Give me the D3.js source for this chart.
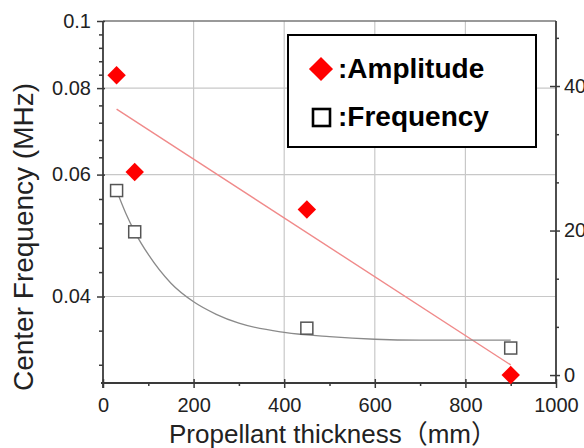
<!DOCTYPE html>
<html>
<head>
<meta charset="utf-8">
<script src="https://cdn.jsdelivr.net/npm/d3@7"></script>
<style>
  body { margin: 0; background: #fff; }
  svg { display: block; font-family: "Liberation Sans", Arial, "Noto Sans CJK JP", sans-serif; }
</style>
</head>
<body>
<div id="chart"></div>
<script>
// values
const thickness = [30, 70, 450, 900];
const amplitude = [41.5, 28.1, 22.9, 0];            // right axis
const frequency = [0.0569, 0.0496, 0.036, 0.0337];  // left axis (MHz)

// red straight fit (right axis), gray decay fit (left axis)
const ampFitX = [30, 900];
const ampFitY = [36.8, 1.4];
const freqFitX = [30, 50, 70, 100, 150, 200, 250, 300, 400, 500, 600, 700, 800, 900];
const freqFitY = [0.0569, 0.0528, 0.0496, 0.046, 0.0418, 0.0393, 0.0377, 0.0366, 0.0355, 0.035, 0.0347, 0.0346, 0.0346, 0.0346];

const xTicks = [0, 200, 400, 600, 800, 1000];
const xMinor = [100, 300, 500, 700, 900];
const leftTicks = [0.04, 0.06, 0.08, 0.1];
const leftTickLabels = ["0.04", "0.06", "0.08", "0.1"];
const rightTicks = [0, 20, 40];
const rightMinor = [20 / 3, 40 / 3, 80 / 3, 100 / 3, 140 / 3];

const width = 584, height = 448;
const margin = { top: 21, right: 28, bottom: 65, left: 103 };
const innerW = width - margin.left - margin.right;
const innerH = height - margin.top - margin.bottom;

const svg = d3.select("#chart").append("svg")
    .attr("width", width)
    .attr("height", height);

const g = svg.append("g").attr("transform", `translate(${margin.left},${margin.top})`);

const x = d3.scaleLinear().domain([0, 1000]).range([0, innerW]);
const yLeft = d3.scaleLog().domain([0.03, 0.1]).range([innerH, 0]);
const yRight = d3.scaleLinear().domain([-1.1, 49]).range([innerH, 0]);

// grid
g.append("g").selectAll("line").data(xTicks.slice(1, -1)).join("line")
    .attr("x1", d => x(d)).attr("x2", d => x(d))
    .attr("y1", 0).attr("y2", innerH)
    .attr("stroke", "#c8c8c8").attr("stroke-width", 1.2);
g.append("g").selectAll("line").data(leftTicks.slice(0, -1)).join("line")
    .attr("x1", 0).attr("x2", innerW)
    .attr("y1", d => yLeft(d)).attr("y2", d => yLeft(d))
    .attr("stroke", "#c8c8c8").attr("stroke-width", 1.2);

// top frame
g.append("line").attr("x1", 0).attr("x2", innerW).attr("y1", 0).attr("y2", 0)
    .attr("stroke", "#777").attr("stroke-width", 1.5);

// left minor ticks: 5 equal pixel steps between majors, continued below 0.04
const leftMinorPx = [];
for (let i = 0; i < leftTicks.length - 1; i++) {
    const a = yLeft(leftTicks[i]), b = yLeft(leftTicks[i + 1]);
    for (let k = 1; k < 5; k++) leftMinorPx.push(a + (b - a) * k / 5);
}
const lowStep = (yLeft(0.04) - yLeft(0.06)) * 1.4 / 5;
for (let p = yLeft(0.04) + lowStep; p < innerH - 10; p += lowStep) leftMinorPx.push(p);
const leftMinor = leftMinorPx.map(p => yLeft.invert(p));

const axisColor = "#3a3a3a";
function styleAxis(sel) {
    sel.select(".domain").attr("stroke", axisColor).attr("stroke-width", 1.8);
    sel.selectAll(".tick line").attr("stroke", axisColor).attr("stroke-width", 1.5);
    sel.selectAll(".tick text").attr("fill", "#222").style("font-size", "20px");
}

// bottom axis
const xAxis = g.append("g").attr("transform", `translate(0,${innerH})`)
    .call(d3.axisBottom(x).tickValues(xTicks).tickSizeInner(5).tickSizeOuter(0).tickPadding(10)
        .tickFormat(d3.format("d")));
styleAxis(xAxis);
xAxis.selectAll(".tick line").attr("y1", -4);
xAxis.select(".domain").attr("d", `M-2,0H${innerW}`);
const xAxisMinor = g.append("g").attr("transform", `translate(0,${innerH})`)
    .call(d3.axisBottom(x).tickValues(xMinor).tickSize(3).tickFormat(""));
styleAxis(xAxisMinor);
xAxisMinor.select(".domain").remove();

// left axis
const yAxisL = g.append("g")
    .call(d3.axisLeft(yLeft).tickValues(leftTicks).tickSizeInner(6).tickSizeOuter(0).tickPadding(6)
        .tickFormat((d, i) => leftTickLabels[i]));
styleAxis(yAxisL);
yAxisL.selectAll(".tick line").attr("x1", 2);
yAxisL.select(".domain").attr("d", `M0,0V${innerH + 5}`);
const yAxisLMinor = g.append("g")
    .call(d3.axisLeft(yLeft).tickValues(leftMinor).tickSize(4).tickFormat(""));
styleAxis(yAxisLMinor);
yAxisLMinor.select(".domain").remove();

// right axis (labels run past the picture edge, as in the source figure)
const yAxisR = g.append("g").attr("transform", `translate(${innerW},0)`)
    .call(d3.axisRight(yRight).tickValues(rightTicks).tickSizeInner(4).tickSizeOuter(0).tickPadding(4));
styleAxis(yAxisR);
yAxisR.selectAll(".tick line").attr("x1", -6);
yAxisR.select(".domain").attr("d", `M0,0V${innerH}`);
const yAxisRMinor = g.append("g").attr("transform", `translate(${innerW},0)`)
    .call(d3.axisRight(yRight).tickValues(rightMinor).tickSize(3).tickFormat(""));
styleAxis(yAxisRMinor);
yAxisRMinor.select(".domain").remove();

// fit lines
g.append("path")
    .datum(ampFitX.map((d, i) => [d, ampFitY[i]]))
    .attr("fill", "none").attr("stroke", "#f08a8a").attr("stroke-width", 1.4)
    .attr("d", d3.line().x(d => x(d[0])).y(d => yRight(d[1])));
g.append("path")
    .datum(freqFitX.map((d, i) => [d, freqFitY[i]]))
    .attr("fill", "none").attr("stroke", "#8a8a8a").attr("stroke-width", 1.3)
    .attr("d", d3.line().curve(d3.curveMonotoneX).x(d => x(d[0])).y(d => yLeft(d[1])));

// markers
const sq = 12;
g.append("g").selectAll("rect").data(thickness).join("rect")
    .attr("x", d => x(d) - sq / 2)
    .attr("y", (d, i) => yLeft(frequency[i]) - sq / 2)
    .attr("width", sq).attr("height", sq)
    .attr("fill", "#fff").attr("stroke", "#555").attr("stroke-width", 1.5);

g.append("g").selectAll("path").data(thickness).join("path")
    .attr("transform", (d, i) => `translate(${x(d)},${yRight(amplitude[i])}) rotate(45)`)
    .attr("d", d3.symbol().type(d3.symbolSquare).size(170))
    .attr("fill", "#ff0000");

// legend
const leg = svg.append("g");
leg.append("rect").attr("x", 288).attr("y", 35).attr("width", 248).attr("height", 112)
    .attr("fill", "#fff").attr("stroke", "#000").attr("stroke-width", 2);
leg.append("path")
    .attr("transform", "translate(321,69) rotate(45)")
    .attr("d", d3.symbol().type(d3.symbolSquare).size(290))
    .attr("fill", "#ff0000");
leg.append("rect").attr("x", 313).attr("y", 109).attr("width", 17).attr("height", 17)
    .attr("fill", "#fff").attr("stroke", "#000").attr("stroke-width", 2.6);
leg.append("text").attr("x", 338).attr("y", 78)
    .style("font-size", "28px").style("font-weight", "bold").text(":Amplitude");
leg.append("text").attr("x", 338).attr("y", 126)
    .style("font-size", "28px").style("font-weight", "bold").text(":Frequency");

// axis titles
svg.append("text")
    .attr("x", 333).attr("y", 443)
    .attr("text-anchor", "middle")
    .attr("fill", "#222")
    .style("font-size", "26px")
    .text("Propellant thickness（mm）");
svg.append("text")
    .attr("transform", "translate(33,237) rotate(-90)")
    .attr("text-anchor", "middle")
    .attr("fill", "#222")
    .style("font-size", "28px")
    .text("Center Frequency (MHz)");
</script>
</body>
</html>
